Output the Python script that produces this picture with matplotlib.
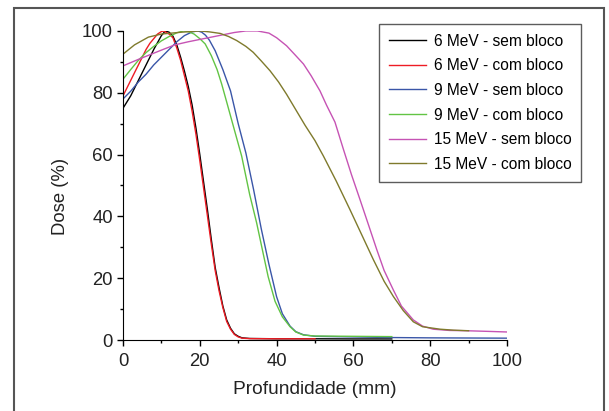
import matplotlib
matplotlib.use("Agg")
import matplotlib.pyplot as plt
from matplotlib.patches import Rectangle
from matplotlib.ticker import MultipleLocator

# Depth dose curves (depth in mm, dose in %)
x_6_sem = [0, 2, 4, 6, 8, 10, 11, 12, 13, 14, 15, 16, 17, 18, 19, 20, 21, 22, 23,
           24, 25, 26, 27, 28, 29, 30, 31, 33, 40, 50, 60, 70]
y_6_sem = [75, 79, 84, 89, 94, 98.5, 100, 99.6, 98.3, 95.5, 91.5, 87, 82, 76, 68.5, 60,
           51, 42, 32.5, 23.5, 17, 11, 6.5, 3.8, 2.0, 1.2, 0.7, 0.5, 0.4, 0.4, 0.35, 0.35]

x_6_com = [0, 1, 2, 3, 4, 5, 6, 7, 8, 9, 10, 10.5, 11, 12, 13, 14, 15, 16, 17, 18, 19,
           20, 21, 22, 23, 24, 25, 26, 27, 28, 29, 30, 31, 33, 40, 50]
y_6_com = [79, 81.5, 84, 86.5, 89, 91.5, 94, 96, 97.5, 99, 99.8, 100, 99.7, 99, 97.8,
           94.5, 90.5, 85.5, 80.5, 74, 66.5, 58, 49, 40, 31, 22.5, 16, 10.5, 6, 3.5,
           1.8, 1.0, 0.6, 0.45, 0.4, 0.4]

x_9_sem = [0, 2, 4, 6, 8, 10, 12, 14, 16, 18, 19.5, 20.5, 21.5, 22.5, 24, 26, 28, 30, 32,
           34, 36, 38, 40, 41.5, 43.5, 45, 47, 50, 60, 70, 80, 100]
y_9_sem = [78, 80.5, 83.5, 86, 89, 91.5, 94, 96.5, 98.5, 99.7, 100, 99.6, 98.6, 97,
           93.6, 87.5, 80.6, 70, 60.5, 48.7, 36, 24.5, 14, 8.5, 4.5, 2.7, 1.7, 1.2, 1.0,
           0.8, 0.7, 0.6]

x_9_com = [0, 2, 4, 6, 8, 10, 12, 14, 15.7, 17, 18.5, 20, 21.4, 23, 24.5, 25.7, 27, 29,
           30.9, 33, 34.8, 36.5, 37.8, 39.6, 41.5, 43.5, 45, 47, 50, 60, 70]
y_9_com = [84.4, 87.5, 90.5, 93, 95, 96.8, 98.2, 99.4, 100, 99.8, 99, 97.5, 95.8, 92,
           87.5, 82.8, 77, 68, 59.5, 47, 37.9, 28, 20.5, 12.5, 7.5, 4.3, 2.6, 1.6, 1.3,
           1.2, 1.1]

x_15_sem = [0, 4, 7, 10, 13.5, 17, 21, 25, 29, 32, 35, 38, 40, 42.6, 45, 47, 49, 51.3,
            53, 55.2, 57.4, 59.5, 61.7, 64, 66.1, 68, 70.4, 72.5, 75.6, 78, 80.8, 85,
            89.5, 95, 100]
y_15_sem = [88.7, 90.8, 92.3, 93.8, 95.5, 96.5, 97.5, 98.5, 99.5, 100, 100, 99.3, 97.8,
            95.2, 92, 89.3, 85.5, 80.6, 76, 70.5, 61.7, 53.5, 45.5, 37, 29.2, 22.5, 16.2,
            11, 6.5, 4.5, 3.5, 3.1, 3.0, 2.8, 2.6]

x_15_com = [0, 3, 6.6, 10, 15.3, 20, 22.5, 25.3, 27.5, 29.6, 32, 33.9, 36, 38.3, 40.5,
            42.6, 45, 47.4, 50, 52.2, 55.5, 59.1, 62, 65.2, 68, 70.4, 73, 75.6, 78,
            82.6, 86, 90]
y_15_com = [92.5, 95.5, 98, 99, 99.6, 100, 99.7, 99.2, 98.2, 96.9, 95, 93.1, 90.3, 87.1,
            83.5, 79.5, 74.5, 69.5, 64.5, 59.5, 51.5, 42.2, 34.5, 26, 19, 14.1, 9.5,
            5.9, 4.3, 3.5, 3.2, 3.0]

series = [
    (x_6_sem, y_6_sem, "6 MeV - sem bloco", "#000000"),
    (x_6_com, y_6_com, "6 MeV - com bloco", "#ee1c24"),
    (x_9_sem, y_9_sem, "9 MeV - sem bloco", "#3a56a8"),
    (x_9_com, y_9_com, "9 MeV - com bloco", "#62c444"),
    (x_15_sem, y_15_sem, "15 MeV - sem bloco", "#c653b4"),
    (x_15_com, y_15_com, "15 MeV - com bloco", "#7f7a2c"),
]

font = ["Liberation Sans", "DejaVu Sans"]
ink = "#222222"

fig = plt.figure(figsize=(6.09, 4.11), dpi=100)
ax = fig.add_axes([0.202, 0.1727, 0.6305, 0.752])

for xs, ys, label, color in series:
    ax.plot(xs, ys, color=color, lw=1.0, label=label)

ax.set_xlim(0, 100)
ax.set_ylim(0, 100)
ax.xaxis.set_major_locator(MultipleLocator(20))
ax.xaxis.set_minor_locator(MultipleLocator(10))
ax.yaxis.set_major_locator(MultipleLocator(20))
ax.yaxis.set_minor_locator(MultipleLocator(10))
ax.spines["top"].set_visible(False)
ax.spines["right"].set_visible(False)
ax.tick_params(which="major", direction="out", length=4.3, width=1)
ax.tick_params(which="minor", direction="out", length=2.2, width=1)
ax.tick_params(axis="x", which="major", pad=5)
ax.tick_params(axis="y", which="major", pad=3)
for lab in ax.get_xticklabels() + ax.get_yticklabels():
    lab.set_family(font)
    lab.set_fontsize(13.3)
    lab.set_color(ink)

ax.set_xlabel("Profundidade (mm)", family=font, fontsize=13.8, color=ink, labelpad=8)
ax.set_ylabel("Dose (%)", family=font, fontsize=13.3, color=ink)
ax.yaxis.set_label_coords(-0.14, 0.463)

leg = ax.legend(loc="upper left", bbox_to_anchor=(379 / 609, 1 - 24 / 411),
                bbox_transform=fig.transFigure, borderaxespad=0, frameon=True,
                fancybox=False, edgecolor="#333333", handlelength=2.4,
                handletextpad=0.5, labelspacing=0.62, borderpad=0.62,
                prop={"family": font, "size": 11.2})
leg.get_frame().set_linewidth(1.0)

# outer frame around the whole figure
fig.patches.append(Rectangle((13.5 / 609, -0.1), (604 - 13.5) / 609, 1.1 - 8.5 / 411,
                             transform=fig.transFigure, fill=False,
                             edgecolor="#555555", lw=1.5))

fig.savefig("out.png", dpi=100)
